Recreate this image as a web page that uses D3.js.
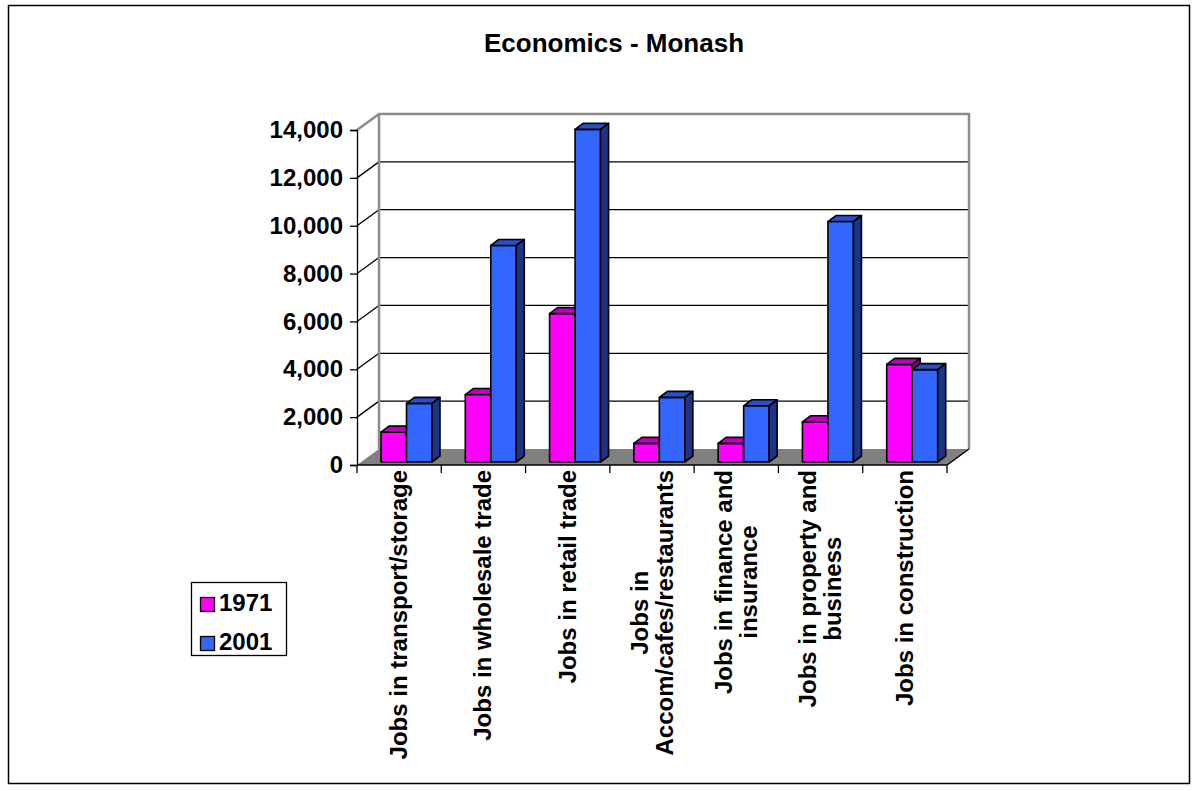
<!DOCTYPE html>
<html>
<head>
<meta charset="utf-8">
<style>
    body { margin: 0; background: #fff; }
    svg text { font-family: "Liberation Sans", Arial, sans-serif; font-weight: bold; fill: #000; }
</style>
</head>
<body>
<svg id="chart" width="1198" height="791"></svg>
<script src="https://cdn.jsdelivr.net/npm/d3@7"></script>
<script>
// data
let categories = [
    ["Jobs in transport/storage"],
    ["Jobs in wholesale trade"],
    ["Jobs in retail trade"],
    ["Jobs in", "Accom/cafes/restaurants"],
    ["Jobs in finance and", "insurance"],
    ["Jobs in property and", "business"],
    ["Jobs in construction"]
]
let series = ["1971", "2001"]
let jobs1971 = [1250, 2820, 6200, 780, 780, 1680, 4080]
let jobs2001 = [2450, 9050, 13900, 2700, 2350, 10050, 3860]
let yTicks = [0, 2000, 4000, 6000, 8000, 10000, 12000, 14000]

let svg = d3.select("#chart")

// colours per series: front, top, side
let colors = {
    "1971": ["#FF00FF", "#C000C0", "#800080"],
    "2001": ["#3366FF", "#2A4FC8", "#1C3584"]
}

// 3d geometry
let depthX = 22, depthY = -16      // wall depth
let barDX = 8, barDY = -6          // bar depth
let barShiftY = -3

let keys = categories.map((c, i) => "c" + i)

let x = d3.scaleBand()
    .domain(keys)
    .range([357, 947])

let inner = d3.scaleBand()
    .domain(series)
    .range([24, 75])

let y = d3.scaleLinear()
    .domain([0, 14000])
    .range([465, 130])

// outer frame
svg.append("rect")
    .attr("x", 8.5).attr("y", 5.5)
    .attr("width", 1181).attr("height", 778)
    .attr("fill", "none")
    .attr("stroke", "#000")
    .attr("stroke-width", 1.5)

svg.append("text")
    .attr("x", 614).attr("y", 52)
    .attr("text-anchor", "middle")
    .style("font-size", "26px")
    .text("Economics - Monash")

let x0 = x.range()[0], x1 = x.range()[1]
let yTop = y(14000), yBot = y(0)

// back wall gridlines
svg.selectAll(".grid")
    .data(yTicks.slice(1, -1))
    .enter()
    .append("line")
    .attr("x1", x0 + depthX).attr("x2", x1 + depthX)
    .attr("y1", d => y(d) + depthY).attr("y2", d => y(d) + depthY)
    .attr("stroke", "#000")
    .attr("stroke-width", 1.3)

// side wall lines
svg.selectAll(".sidegrid")
    .data(yTicks.slice(1, -1))
    .enter()
    .append("line")
    .attr("x1", x0).attr("x2", x0 + depthX)
    .attr("y1", d => y(d)).attr("y2", d => y(d) + depthY)
    .attr("stroke", "#000")
    .attr("stroke-width", 1.3)

// wall borders (gray)
svg.append("path")
    .attr("d", d3.line()([
        [x0, yTop], [x0 + depthX, yTop + depthY], [x1 + depthX, yTop + depthY], [x1 + depthX, yBot + depthY]
    ]))
    .attr("fill", "none")
    .attr("stroke", "#8c8c8c")
    .attr("stroke-width", 2.5)
svg.append("line")
    .attr("x1", x0 + depthX).attr("x2", x0 + depthX)
    .attr("y1", yTop + depthY).attr("y2", yBot + depthY)
    .attr("stroke", "#8c8c8c")
    .attr("stroke-width", 2.5)

// floor
svg.append("path")
    .attr("d", d3.line()([
        [x0, yBot], [x1, yBot], [x1 + depthX, yBot + depthY], [x0 + depthX, yBot + depthY]
    ]) + "Z")
    .attr("fill", "#808080")
svg.append("path")
    .attr("d", d3.line()([[x0, yBot], [x1, yBot], [x1 + depthX, yBot + depthY]]))
    .attr("fill", "none")
    .attr("stroke", "#000")
    .attr("stroke-width", 1.3)

// category ticks
svg.selectAll(".xtick")
    .data(keys.map(k => x(k)).concat([x1]))
    .enter()
    .append("line")
    .attr("x1", d => d).attr("x2", d => d)
    .attr("y1", yBot).attr("y2", yBot + 8)
    .attr("stroke", "#000")
    .attr("stroke-width", 1.3)

// y axis on the front edge
let yAxis = svg.append("g")
    .attr("transform", "translate(" + x0 + ",0)")
    .call(d3.axisLeft(y)
        .tickValues(yTicks)
        .tickFormat(d3.format(","))
        .tickSize(7)
        .tickPadding(7))
yAxis.select(".domain").attr("stroke", "#000").attr("stroke-width", 1.3)
yAxis.selectAll(".tick line").attr("stroke", "#000").attr("stroke-width", 1.3)
yAxis.selectAll("text")
    .style("font-size", "24px")
    .style("font-family", "'Liberation Sans', Arial, sans-serif")
    .style("font-weight", "bold")
    .attr("fill", "#000")

// bars
let bars = []
keys.forEach((k, i) => {
    bars.push({ key: k, s: "1971", v: jobs1971[i] })
    bars.push({ key: k, s: "2001", v: jobs2001[i] })
})

let barG = svg.selectAll(".bar")
    .data(bars)
    .enter()
    .append("g")
    .attr("class", "bar")

barG.each(function(d) {
    let g = d3.select(this)
    let bx = x(d.key) + inner(d.s)
    let w = inner.bandwidth()
    let yt = y(d.v) + barShiftY
    let yb = y(0) + barShiftY
    let c = colors[d.s]
    g.append("rect")
        .attr("x", bx).attr("y", yt)
        .attr("width", w).attr("height", yb - yt)
        .attr("fill", c[0])
    g.append("path")
        .attr("d", d3.line()([[bx, yt], [bx + w, yt], [bx + w + barDX, yt + barDY], [bx + barDX, yt + barDY]]) + "Z")
        .attr("fill", c[1])
    g.append("path")
        .attr("d", d3.line()([[bx + w, yt], [bx + w + barDX, yt + barDY], [bx + w + barDX, yb + barDY], [bx + w, yb]]) + "Z")
        .attr("fill", c[2])
    g.selectAll("rect, path")
        .attr("stroke", "#000")
        .attr("stroke-width", 1.6)
        .attr("stroke-linejoin", "round")
})

// rotated category labels
let labelTop = 470
let lineH = 25
let labels = svg.selectAll(".xlabel")
    .data(categories)
    .enter()
    .append("g")
    .attr("class", "xlabel")
    .attr("transform", (d, i) => "translate(" + (x(keys[i]) + x.bandwidth() / 2) + "," + labelTop + ") rotate(-90)")

labels.each(function(lines) {
    let g = d3.select(this)
    let ts = lines.map((t, j) => g.append("text")
        .style("font-size", "24px")
        .attr("text-anchor", "middle")
        .attr("y", 8 + (j - (lines.length - 1) / 2) * lineH)
        .text(t))
    let maxW = d3.max(ts, t => t.node().getComputedTextLength())
    ts.forEach(t => t.attr("x", -maxW / 2))
})

// legend
let legend = svg.append("g")
legend.append("rect")
    .attr("x", 191.5).attr("y", 582.5)
    .attr("width", 95).attr("height", 73)
    .attr("fill", "#fff")
    .attr("stroke", "#000")
    .attr("stroke-width", 1.3)
series.forEach((s, i) => {
    legend.append("rect")
        .attr("x", 200.5).attr("y", 597.5 + i * 39)
        .attr("width", 14).attr("height", 14)
        .attr("fill", colors[s][0])
        .attr("stroke", "#000")
        .attr("stroke-width", 1.3)
    legend.append("text")
        .attr("x", 219).attr("y", 611 + i * 39)
        .style("font-size", "24px")
        .text(s)
})
</script>
</body>
</html>
